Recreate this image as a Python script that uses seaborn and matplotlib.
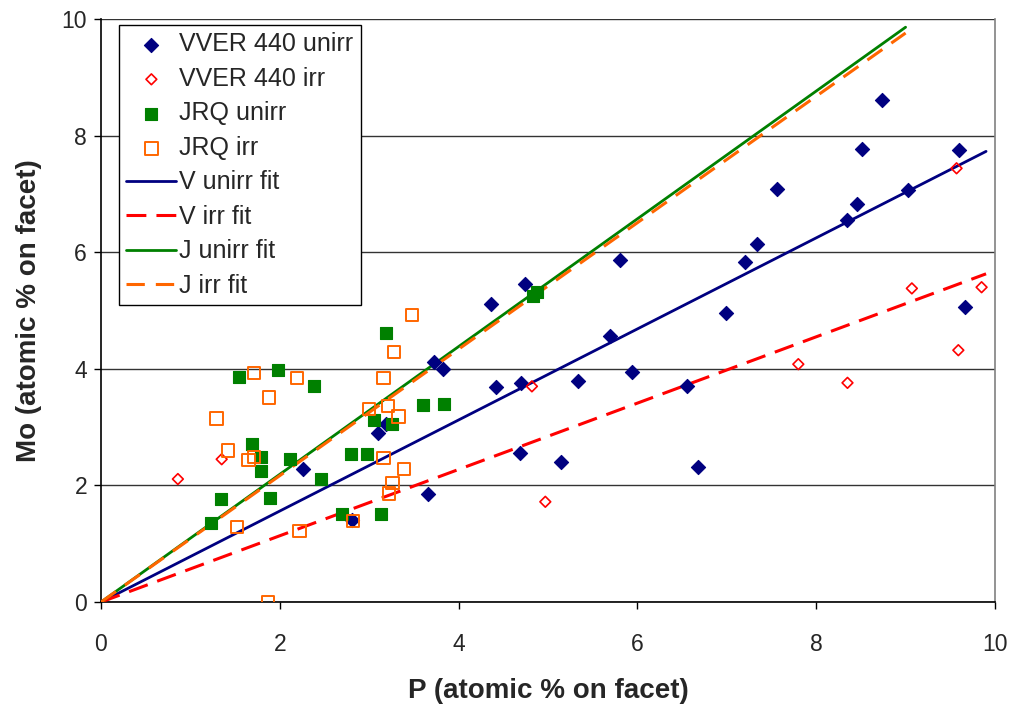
import matplotlib
matplotlib.use("Agg")  # headless rendering
import matplotlib.pyplot as plt
import pandas as pd
import seaborn as sns

# VVER 440 unirradiated (navy diamonds)
vu_x = [2.26, 2.81, 3.10, 3.19, 3.66, 3.72, 3.83, 4.36, 4.42, 4.69, 4.70, 4.74,
        5.15, 5.33, 5.69, 5.81, 5.94, 6.55, 6.68, 6.99, 7.20, 7.34, 7.56, 8.34,
        8.46, 8.51, 8.74, 9.03, 9.60, 9.66]
vu_y = [2.29, 1.41, 2.90, 3.05, 1.85, 4.11, 4.00, 5.11, 3.69, 2.56, 3.76, 5.45,
        2.40, 3.79, 4.56, 5.87, 3.94, 3.71, 2.32, 4.96, 5.83, 6.14, 7.09, 6.55,
        6.83, 7.77, 8.61, 7.07, 7.75, 5.06]

# VVER 440 irradiated (open red diamonds)
vi_x = [0.86, 1.35, 4.82, 4.97, 7.80, 8.35, 9.07, 9.57, 9.59, 9.85]
vi_y = [2.11, 2.45, 3.70, 1.72, 4.08, 3.76, 5.38, 7.44, 4.32, 5.40]

# JRQ unirradiated (green squares)
ju_x = [1.23, 1.34, 1.54, 1.69, 1.79, 1.79, 1.89, 1.98, 2.11, 2.38, 2.46, 2.70,
        2.80, 2.97, 3.05, 3.13, 3.19, 3.25, 3.60, 3.84, 4.83, 4.88]
ju_y = [1.36, 1.76, 3.86, 2.71, 2.48, 2.25, 1.78, 3.98, 2.45, 3.71, 2.11, 1.51,
        2.54, 2.54, 3.12, 1.51, 4.62, 3.05, 3.38, 3.40, 5.25, 5.32]

# JRQ irradiated (open orange squares)
ji_x = [1.29, 1.42, 1.52, 1.65, 1.71, 1.71, 1.87, 1.88, 2.19, 2.22, 2.82, 3.00,
        3.16, 3.16, 3.21, 3.22, 3.26, 3.28, 3.33, 3.39, 3.48]
ji_y = [3.15, 2.60, 1.29, 2.44, 2.49, 3.93, 0.00, 3.51, 3.84, 1.22, 1.39, 3.31,
        3.84, 2.47, 3.36, 1.86, 2.04, 4.29, 3.18, 2.28, 4.92]

# fit lines, endpoints
v_fit_x = [0.0, 9.90]
vu_fit_y = [0.0, 7.73]
vi_fit_y = [0.0, 5.63]
j_fit_x = [0.0, 9.00]
ju_fit_y = [0.0, 9.86]
ji_fit_y = [0.0, 9.76]

sns.set_style("white")
plt.rcParams["font.family"] = ["Liberation Sans", "DejaVu Sans"]

fig = plt.figure(figsize=(10.12, 7.05), dpi=100)
ax = fig.add_axes([0.0998, 0.146, 0.8834, 0.827])

sns.scatterplot(x=vu_x, y=vu_y, ax=ax, marker="D", s=52, color="#000080",
                edgecolor="#000080", linewidth=0.8, label="VVER 440 unirr", zorder=4)
sns.scatterplot(x=vi_x, y=vi_y, ax=ax, marker="D", s=30, facecolor="none",
                edgecolor="#FF0000", linewidth=1.2, label="VVER 440 irr", zorder=4)
sns.scatterplot(x=ju_x, y=ju_y, ax=ax, marker="s", s=80, color="#008000",
                edgecolor="#008000", linewidth=0.8, label="JRQ unirr", zorder=4)
sns.scatterplot(x=ji_x, y=ji_y, ax=ax, marker="s", s=80, facecolor="none",
                edgecolor="#FF6600", linewidth=1.4, label="JRQ irr", zorder=4)

sns.lineplot(x=v_fit_x, y=vu_fit_y, ax=ax, color="#000080", linewidth=2.0,
             label="V unirr fit", zorder=3)
sns.lineplot(x=v_fit_x, y=vi_fit_y, ax=ax, color="#FF0000", linewidth=2.2,
             linestyle=(0, (6.5, 3.3)), label="V irr fit", zorder=3)
sns.lineplot(x=j_fit_x, y=ju_fit_y, ax=ax, color="#008000", linewidth=2.0,
             label="J unirr fit", zorder=3)
sns.lineplot(x=j_fit_x, y=ji_fit_y, ax=ax, color="#FF6600", linewidth=2.2,
             linestyle=(0, (6.0, 3.6)), label="J irr fit", zorder=3)

ax.set_xlim(0, 10)
ax.set_ylim(0, 10)
ax.set_xticks([0, 2, 4, 6, 8, 10])
ax.set_yticks([0, 2, 4, 6, 8, 10])
ax.yaxis.grid(True, color="#333333", linewidth=1.0)
ax.xaxis.grid(False)
ax.set_axisbelow(True)

for side in ["left", "bottom"]:
    ax.spines[side].set_color("black")
    ax.spines[side].set_linewidth(1.2)
ax.spines["top"].set_visible(False)
ax.spines["right"].set_color("#808080")
ax.spines["right"].set_linewidth(1.2)

ax.tick_params(axis="both", which="major", direction="out", length=5, width=1,
               color="black", labelsize=16.5, left=True, bottom=True)
ax.tick_params(axis="x", pad=17)
ax.tick_params(axis="y", pad=5)

ax.set_xlabel("P (atomic % on facet)", fontsize=20, fontweight="bold", labelpad=16)
ax.set_ylabel("Mo (atomic % on facet)", fontsize=20, fontweight="bold", labelpad=14)

handles, labels = ax.get_legend_handles_labels()
leg = ax.legend(handles, labels, loc="upper left", bbox_to_anchor=(0.02, 0.99),
                borderaxespad=0, fontsize=18, frameon=True, fancybox=False,
                edgecolor="black", framealpha=1, handlelength=2.0,
                handletextpad=0.12, labelspacing=0.42, borderpad=0.3,
                scatterpoints=1)
leg.get_frame().set_linewidth(1.0)

fig.savefig("out.png", dpi=100)
plt.close(fig)
